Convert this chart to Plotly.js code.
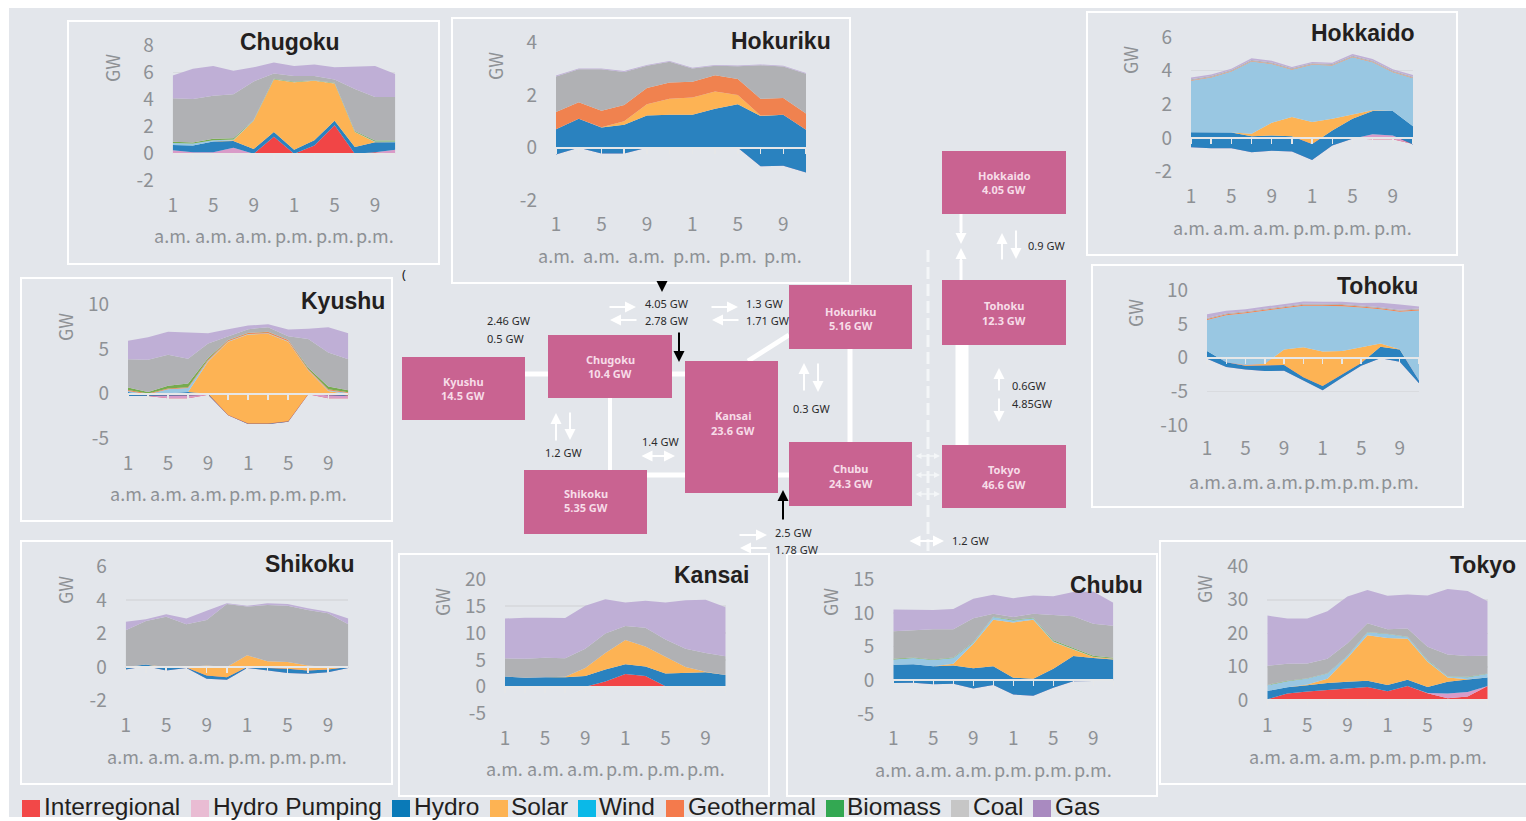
<!DOCTYPE html>
<html>
<head>
<meta charset="utf-8">
<script src="https://cdn.plot.ly/plotly-3.0.1.min.js"></script>
<style>html,body{margin:0;padding:0;background:#fff;overflow:hidden}#chart{width:1526px;height:821px}</style>
</head>
<body>
<div id="chart"></div>
<script>
// ---------- shared categories ----------
const hours = [1,3,5,7,9,11,13,15,17,19,21,23];
const hourTickText = ['1','','5','','9','','1','','5','','9',''];
const periodHours = [1,5,9,13,17,21];
const periodLabels = ['a.m.','a.m.','a.m.','p.m.','p.m.','p.m.'];
const seriesNames = ['Interregional','Hydro Pumping','Hydro','Solar','Wind','Geothermal','Biomass','Coal','Gas'];

// ---------- Chugoku ----------
const chugokuTicks = [-2,0,2,4,6,8];
const chugokuInterregional = [0,0,.05,0,0,1.25,0,.6,2.1,0,.1,0];
const chugokuPumping = [.25,.1,.05,.45,0,0,0,0,0,0,0,.3];
const chugokuHydro = [.4,.5,.8,.5,.35,.35,.3,.4,.35,.5,.75,.55];
const chugokuSolar = [0,0,0,.05,2.1,3.9,5,4.4,2.75,1.1,.02,0];
const chugokuWind = [.15,.15,.1,.05,.02,.02,.02,.02,.02,.02,.03,.05];
const chugokuBiomass = [.08,.08,.1,.1,.03,.03,.03,.03,.03,.06,.08,.08];
const chugokuCoal = [3.22,3.22,3.2,3.25,2.85,.4,.4,.3,.25,3.12,3.22,3.22];
const chugokuGas = [1.7,2.25,2.2,1.75,1.05,.8,.75,.85,.9,1.65,2.3,1.7];

// ---------- Hokuriku ----------
const hokurikuTicks = [-2,0,2,4];
const hokurikuPumping = [-.25,0,-.22,-.22,0,0,0,0,0,-.7,-.68,-.93];
const hokurikuHydro = [.95,1.1,.99,1.09,1.22,1.25,1.25,1.48,1.65,1.9,1.93,1.61];
const hokurikuSolar = [0,0,.01,.13,.43,.6,.65,.65,.35,.02,0,0];
const hokurikuGeothermal = [.65,.62,.62,.62,.61,.62,.6,.61,.6,.63,.63,.62];
const hokurikuCoal = [1.35,1.25,1.57,1.25,.84,.78,.5,.36,.48,1.27,1.19,1.5];
const hokurikuGas = [.03,.03,.03,.03,.03,.03,.03,.03,.03,.03,.03,.03];

// ---------- Hokkaido ----------
const hokkaidoTicks = [-2,0,2,4,6];
const hokkaidoInterregional = [0,0,0,0,0,0,0,0,-.03,-.08,-.08,-.35];
const hokkaidoPumping = [-.55,-.6,-.6,-.85,-.75,-.8,-1.3,-.45,-.02,.3,.23,-.03];
const hokkaidoHydro = [.9,.92,.93,.95,.9,.9,.95,.9,1.2,1.38,1.45,1.08];
const hokkaidoSolar = [0,0,0,.15,.75,1.15,1.3,.7,.25,.05,0,0];
const hokkaidoWind = [3.05,3.28,3.62,4.3,3.5,2.8,3.4,3.15,3.4,2.85,2.3,2.85];
const hokkaidoGeothermal = [.03,.03,.03,.03,.03,.03,.03,.03,.03,.03,.03,.03];
const hokkaidoCoal = [.06,.06,.06,.06,.06,.06,.06,.06,.06,.06,.06,.06];
const hokkaidoGas = [.1,.08,.08,.1,.1,.08,.08,.08,.1,.1,.1,.1];

// ---------- Tohoku ----------
const tohokuTicks = [-10,-5,0,5,10];
const tohokuInterregional = [-.15,0,0,0,0,0,0,0,0,0,0,0];
const tohokuPumping = [0,-1.4,-1.75,-2,-1.95,-3.4,-4.85,-3,-1.2,-.1,-.6,-3.8];
const tohokuHydro = [1.15,.7,.55,.8,.85,.5,.65,.5,.4,1.7,1.8,.4];
const tohokuSolar = [0,0,.1,.3,2.3,4.45,5.1,3.5,2.35,.5,.05,0];
const tohokuWind = [4.6,7,7.7,7.85,6.1,6.15,6.8,6.65,5.9,5.1,5.55,10.4];
const tohokuGeothermal = [.15,.15,.15,.15,.15,.15,.15,.15,.15,.15,.15,.15];
const tohokuCoal = [.15,.15,.15,.15,.15,.15,.15,.15,.15,.15,.15,.15];
const tohokuGas = [.55,.35,.3,.3,.4,.35,.3,.35,.35,.65,.8,.3];

// ---------- Kyushu ----------
const kyushuTicks = [-5,0,5,10];
const kyushuInterregional = [-.25,-.25,-.5,-.5,-.1,-2.4,-3.35,-3.35,-3.1,-.05,-.5,-.5];
const kyushuPumping = [0,0,.3,.3,0,0,0,0,0,0,.35,.25];
const kyushuHydro = [.45,.1,.25,.4,.1,.05,.05,.05,.05,.03,.2,.05];
const kyushuSolar = [0,0,0,0,3.6,8.15,9.9,10,8.85,2.62,.25,.15];
const kyushuWind = [.1,.1,.45,.45,.1,.05,.05,.05,.05,.05,.1,.15];
const kyushuGeothermal = [.12,.08,.1,.07,.15,.1,.13,.13,.13,.1,.1,.08];
const kyushuBiomass = [.28,.17,.3,.43,.15,.05,.02,.02,.02,.15,.3,.22];
const kyushuCoal = [3.15,3.6,3.45,2.75,1.6,.4,.4,.5,.4,3.2,3.8,3.45];
const kyushuGas = [2.05,2.5,2.55,2.9,1.15,.8,.4,.35,.75,1.15,2.8,2.9];

// ---------- Shikoku ----------
const shikokuTicks = [-2,0,2,4,6];
const shikokuPumping = [-.15,.05,-.2,-.05,-.7,-.75,-.05,-.2,-.35,-.4,-.3,-.05];
const shikokuHydro = [.15,.1,.15,.03,.2,.15,.05,.15,.25,.2,.15,.05];
const shikokuSolar = [0,0,.05,.02,.6,.6,.7,.4,.4,.3,.15,0];
const shikokuCoal = [2.2,2.6,3,2.55,2.7,3.75,2.9,3.35,3.35,3.3,3.2,2.55];
const shikokuGas = [.5,.1,.15,.35,.55,.05,.05,.1,.1,.1,.1,.35];

// ---------- Kansai ----------
const kansaiTicks = [-5,0,5,10,15,20];
const kansaiInterregional = [0,0,0,0,0,1,2.4,2,.1,0,0,0];
const kansaiHydro = [1.9,1.7,1.8,1.8,2,2.2,1.8,1.8,2.4,2.65,2.7,2.2];
const kansaiSolar = [0,0,0,.05,1.5,3.1,4.5,3.7,3.1,1.05,.1,0];
const kansaiCoal = [3.4,3.5,3.6,3.45,3.6,3.6,2.6,3.5,3.2,3.4,3.5,3.5];
const kansaiGas = [7.4,7.65,7.45,7.5,8,6.4,4.4,5,6.9,9,9.9,9.1];

// ---------- Chubu ----------
const chubuTicks = [-5,0,5,10,15];
const chubuPumping = [-.4,-.35,-.6,-.5,-1.2,-.7,-2.1,-2.3,-1.1,-.15,-.1,0];
const chubuHydro = [2.7,2.75,2.7,2.7,3,2.8,2.5,2.55,2.8,3.75,3.4,3.1];
const chubuSolar = [0,0,0,.25,3.6,6.9,8.2,8.75,4,1,.15,.1];
const chubuWind = [.8,.9,.9,.85,.2,.4,.3,.2,.1,.05,.05,.05];
const chubuBiomass = [.1,.1,.1,.1,.1,.05,.1,.1,.15,.2,.15,.1];
const chubuCoal = [4.1,4.1,4.5,4.2,3.5,.45,.4,.6,3.75,4.65,4.75,4.75];
const chubuGas = [3.2,3,2.85,3,2.9,2.8,2.8,2.7,2.8,3.6,4.8,3.4];

// ---------- Tokyo ----------
const tokyoTicks = [0,10,20,30,40];
const tokyoInterregional = [.3,2,2.6,3.1,3.6,4,2.7,4.3,2.1,.6,1.1,4.3];
const tokyoPumping = [0,0,0,0,0,0,0,0,.1,1.4,1.4,0];
const tokyoHydro = [2.5,1.9,1.9,2.1,1.9,1.8,1.9,1.8,1.8,3.5,3.7,2.5];
const tokyoSolar = [0,0,.2,1.2,7.1,13.6,14,12.3,7.5,1.3,.1,0];
const tokyoWind = [1.7,1.8,1.8,1.6,.6,.9,1.2,.5,.4,.3,.6,1.1];
const tokyoBiomass = [.1,.1,.1,.1,.1,.1,.1,.1,.1,.1,.1,.1];
const tokyoCoal = [5.7,5.1,4.4,4.3,3.7,2.6,1.3,2.4,4,6.5,6.2,5.3];
const tokyoGas = [15,13.5,13.4,14.2,14,9.9,10,10.2,15.3,19.5,19.4,16.3];

// ---------- diagram text ----------
const gridBoxNames = ['Kyushu','Chugoku','Kansai','Shikoku','Hokuriku','Chubu','Tohoku','Tokyo','Hokkaido'];
const gridBoxCapacities = ['14.5 GW','10.4 GW','23.6 GW','5.35 GW','5.16 GW','24.3 GW','12.3 GW','46.6 GW','4.05 GW'];
const linkLabels = ['2.46 GW','0.5 GW','4.05 GW','2.78 GW','1.3 GW','1.71 GW','1.2 GW','1.4 GW','2.5 GW','1.78 GW','0.9 GW','0.3 GW','0.6GW','4.85GW','1.2 GW'];

// ---------- styling and page geometry ----------
const W = 1526, H = 821;
const areaColors = {Interregional:'#f14546','Hydro Pumping':'#d99bc8',Hydro:'#2a82bf',Solar:'#fdb354',Wind:'#99c7e2',Geothermal:'#f0824f',Biomass:'#76ab4e',Coal:'#b0b1b4',Gas:'#bfafd6'};
const legendColors = {Interregional:'#f24848','Hydro Pumping':'#e9bcd3',Hydro:'#0a7ab8',Solar:'#fdb353',Wind:'#0ab9e8',Geothermal:'#f47a4c',Biomass:'#33a852',Coal:'#c6c6c6',Gas:'#a98ac0'};
const legendSpots = [[22,43],[191,212],[392,413],[490,510],[578,598],[666,687],[826,846],[951,972],[1033,1054]];
const tickGrey = '#8e9195', axisFont = '"Noto Sans CJK JP","Noto Sans",sans-serif';
const darkText = '#231f20', boxPink = '#c96391', bg = '#e3e6eb';

const charts = [
 {title:'Chugoku', ticks:chugokuTicks, s:[chugokuInterregional,chugokuPumping,chugokuHydro,chugokuSolar,chugokuWind,null,chugokuBiomass,chugokuCoal,chugokuGas],
  frame:[68,21,439,264], plot:[172.7,395.3,45.7,180.7], num:205, per:235, gw:[112,68], head:[289.5,42]},
 {title:'Hokuriku', ticks:hokurikuTicks, s:[null,hokurikuPumping,hokurikuHydro,hokurikuSolar,null,hokurikuGeothermal,null,hokurikuCoal,hokurikuGas],
  frame:[452,18,850,283], plot:[556,806,42,200.7], num:224, per:255, gw:[495,66], head:[781,41]},
 {title:'Hokkaido', ticks:hokkaidoTicks, s:[hokkaidoInterregional,hokkaidoPumping,hokkaidoHydro,hokkaidoSolar,hokkaidoWind,hokkaidoGeothermal,null,hokkaidoCoal,hokkaidoGas],
  frame:[1087,12,1457,255], plot:[1191,1413,37,171.7], num:196, per:227, gw:[1130,60], head:[1363,33]},
 {title:'Tohoku', ticks:tohokuTicks, s:[tohokuInterregional,tohokuPumping,tohokuHydro,tohokuSolar,tohokuWind,tohokuGeothermal,null,tohokuCoal,tohokuGas],
  frame:[1092,265,1463,507], plot:[1207,1419,290.3,425], num:449, per:481, gw:[1135,313], head:[1377,286]},
 {title:'Kyushu', ticks:kyushuTicks, s:[kyushuInterregional,kyushuPumping,kyushuHydro,kyushuSolar,kyushuWind,kyushuGeothermal,kyushuBiomass,kyushuCoal,kyushuGas],
  frame:[21,278,392,521], plot:[128,348.3,304,438.7], num:463, per:493, gw:[65,327], head:[343,301]},
 {title:'Shikoku', ticks:shikokuTicks, s:[null,shikokuPumping,shikokuHydro,shikokuSolar,null,null,null,shikokuCoal,shikokuGas],
  frame:[21,541,392,784], plot:[125.7,348.3,566.3,700.7], num:725, per:756, gw:[65,590], head:[309,564]},
 {title:'Kansai', ticks:kansaiTicks, s:[kansaiInterregional,null,kansaiHydro,kansaiSolar,null,null,null,kansaiCoal,kansaiGas],
  frame:[399,554,769,796], plot:[505,725.7,579.3,713.7], num:738, per:768, gw:[442,602], head:[711,575]},
 {title:'Chubu', ticks:chubuTicks, s:[null,chubuPumping,chubuHydro,chubuSolar,chubuWind,null,chubuBiomass,chubuCoal,chubuGas],
  frame:[787,554,1157,796], plot:[893.3,1113.3,579.3,714], num:738, per:769, gw:[830,602], head:[1106,585]},
 {title:'Tokyo', ticks:tokyoTicks, s:[tokyoInterregional,tokyoPumping,tokyoHydro,tokyoSolar,tokyoWind,null,tokyoBiomass,tokyoCoal,tokyoGas],
  frame:[1160,541,1530,784], plot:[1267.3,1487.7,566.3,700.3], num:725, per:756, gw:[1204,589], head:[1483,565]}
];

const gridBoxes = [[402,357,525,420],[548,335,672,398],[685,361,778,493],[524,470,647,534],[789,285,912,349],[789,442,912,506],[942,280,1066,345],[942,445,1066,508],[942,151,1066,214]];
const gridBoxLabelY = [388,366,423,500.5,318,475.5,313,476.5,182.5];
const connectors = [[525,374,548,374,5],[672,374,685,374,5],[610,398,610,470,4],[647,475,685,475,5],[778,475,789,475,5],[748,361,789,335,5],[850,349,850,442,5],[962,345,962,445,13],[961,214,961,232,3],[961,260,961,280,3]];
const whiteArrows = [[608,307,636,307],[638,320,610,320],[710,307,738,307],[740,320,712,320],[556,442,556,413],[570,411,570,440],[738,535,767,535],[768,548,740,548],[1002,261,1002,233],[1016,229,1016,259],[804,392,804,363],[818,362,818,392],[999,392,999,368],[999,397,999,422],[961,228,961,244],[961,262,961,248]];
const doubleArrows = [[640,456,675,456],[908,541,944,541]];
const shortDoubleArrows = [[914,456,940,456],[914,475,940,475],[914,494,940,494]];
const blackArrows = [[679,331,679,362],[783,521,783,490],[662,283,662,292]];
const linkSpots = [[486,321],[486,338],[644,303],[644,321],[745,303],[745,321],[544,453],[641,441],[774,532],[774,549],[1027,245],[792,409],[1011,386],[1011,403],[951,540]];

const px = x => x / W, py = y => 1 - y / H;
const data = [], shapes = [], annotations = [], layout = {
  width:W, height:H, margin:{l:0,r:0,t:0,b:0}, paper_bgcolor:'#ffffff', plot_bgcolor:'rgba(0,0,0,0)',
  showlegend:false, hovermode:false, font:{family:axisFont}
};

shapes.push({type:'rect',xref:'paper',yref:'paper',x0:px(9),x1:px(W),y0:py(817),y1:py(8),fillcolor:bg,line:{width:0},layer:'below'});

function pageText(text,x,y,opts){
  annotations.push(Object.assign({text,xref:'paper',yref:'paper',x:px(x),y:py(y),showarrow:false,xanchor:'center',yanchor:'middle',borderpad:0},opts));
}
function pageArrow(a,color,width,both,size){
  annotations.push({text:'',xref:'paper',yref:'paper',x:px(a[2]),y:py(a[3]),ax:a[0]-a[2],ay:a[1]-a[3],axref:'pixel',ayref:'pixel',
    showarrow:true,arrowhead:2,arrowsize:size,arrowwidth:width,arrowcolor:color,arrowside:both?'end+start':'end',startarrowhead:2,startarrowsize:size});
}

// connectors and boxes of the grid diagram
connectors.forEach(c=>shapes.push({type:'line',xref:'paper',yref:'paper',x0:px(c[0]),y0:py(c[1]),x1:px(c[2]),y1:py(c[3]),line:{color:'#ffffff',width:c[4]},layer:'below'}));
shapes.push({type:'line',xref:'paper',yref:'paper',x0:px(928),x1:px(928),y0:py(250),y1:py(556),line:{color:'#f4f6f8',width:3,dash:'12px,5px'},layer:'below'});
gridBoxes.forEach((b,i)=>{
  shapes.push({type:'rect',xref:'paper',yref:'paper',x0:px(b[0]),x1:px(b[2]),y0:py(b[3]),y1:py(b[1]),fillcolor:boxPink,line:{width:0},layer:'below'});
  const cx = (b[0]+b[2])/2 + (i===2?1:0);
  pageText('<b>'+gridBoxNames[i]+'</b>',cx,gridBoxLabelY[i]-7,{font:{family:'"Noto Sans",sans-serif',size:11,color:'#f7dce8'}});
  pageText('<b>'+gridBoxCapacities[i]+'</b>',cx,gridBoxLabelY[i]+7.5,{font:{family:'"Noto Sans",sans-serif',size:11,color:'#f7dce8'}});
});
whiteArrows.forEach(a=>pageArrow(a,'#ffffff',2,false,1.1));
doubleArrows.forEach(a=>pageArrow(a,'#ffffff',2,true,1.1));
shortDoubleArrows.forEach(a=>pageArrow(a,'#f4f6f8',1.5,true,0.8));
blackArrows.forEach(a=>pageArrow(a,'#000000',2,false,1.1));
linkLabels.forEach((t,i)=>pageText(t,linkSpots[i][0],linkSpots[i][1],{xanchor:'left',font:{family:'"Noto Sans",sans-serif',size:11,color:'#2b2b2b'}}));
pageText('(',404,274,{font:{family:'"Noto Sans",sans-serif',size:13,color:'#222222'}});

// the nine regional charts
charts.forEach((c,n)=>{
  const id = n===0?'':String(n+1), xName='xaxis'+id, yName='yaxis'+id, xRef='x'+id, yRef='y'+id;
  const [left,right,top,bottom] = c.plot;
  const lo = c.ticks[0], hi = c.ticks[c.ticks.length-1];
  const zeroPx = bottom + (lo/(hi-lo))*(bottom-top);
  // a hair of extra range so the outermost gridlines are kept
  const pad = 0.004*(hi-lo), padPx = 0.004*(bottom-top);
  shapes.push({type:'rect',xref:'paper',yref:'paper',x0:px(c.frame[0]),x1:px(c.frame[2]),y0:py(c.frame[3]),y1:py(c.frame[1]),fillcolor:'rgba(0,0,0,0)',line:{color:'#ffffff',width:2},layer:'below'});
  seriesNames.forEach((name,k)=>{
    if(!c.s[k]) return;
    data.push({type:'scatter',mode:'lines',name,x:hours,y:c.s[k],xaxis:xRef,yaxis:yRef,stackgroup:'stack'+n,line:{width:0},fillcolor:areaColors[name],showlegend:false,hoverinfo:'skip'});
  });
  layout[xName] = {domain:[px(left),px(right)],range:[hours[0],hours[hours.length-1]],anchor:'free',position:py(zeroPx),side:'bottom',
    tickmode:'array',tickvals:hours,ticktext:hourTickText,ticks:'outside',ticklen:5,tickwidth:1.5,tickcolor:'#e6e7e8',
    showline:true,linecolor:'#e6e7e8',linewidth:2,showgrid:false,zeroline:false,
    tickfont:{family:axisFont,size:19,color:tickGrey},ticklabelstandoff:Math.round(c.num-zeroPx-22),fixedrange:true};
  layout[yName] = {domain:[py(bottom+padPx),py(top-padPx)],range:[lo-pad,hi+pad],anchor:xRef,side:'left',tickmode:'array',tickvals:c.ticks,ticktext:c.ticks.map(String),
    ticks:'',showgrid:true,gridcolor:'#d9dbdf',gridwidth:1.5,zeroline:false,showline:false,
    tickfont:{family:axisFont,size:19,color:tickGrey},ticklabelstandoff:18,fixedrange:true};
  periodHours.forEach((h,i)=>annotations.push({text:periodLabels[i],xref:xRef,yref:'paper',x:h,y:py(c.per),showarrow:false,xanchor:'center',yanchor:'middle',
    font:{family:axisFont,size:18,color:tickGrey}}));
  pageText('GW',c.gw[0],c.gw[1],{textangle:-90,font:{family:axisFont,size:18,color:tickGrey}});
  pageText('<b>'+c.title+'</b>',c.head[0],c.head[1],{font:{family:'"Liberation Sans",Arial,sans-serif',size:23,color:darkText}});
});

// legend strip
seriesNames.forEach((name,i)=>{
  const [sx,tx] = legendSpots[i];
  shapes.push({type:'rect',xref:'paper',yref:'paper',x0:px(sx),x1:px(sx+18),y0:py(817),y1:py(800),fillcolor:legendColors[name],line:{width:0},layer:'above'});
  pageText(name,tx,806.5,{xanchor:'left',font:{family:'"Liberation Sans",Arial,sans-serif',size:24.5,color:darkText}});
});

layout.shapes = shapes;
layout.annotations = annotations;
Plotly.newPlot('chart',data,layout,{displayModeBar:false,staticPlot:true});
</script>
</body>
</html>
